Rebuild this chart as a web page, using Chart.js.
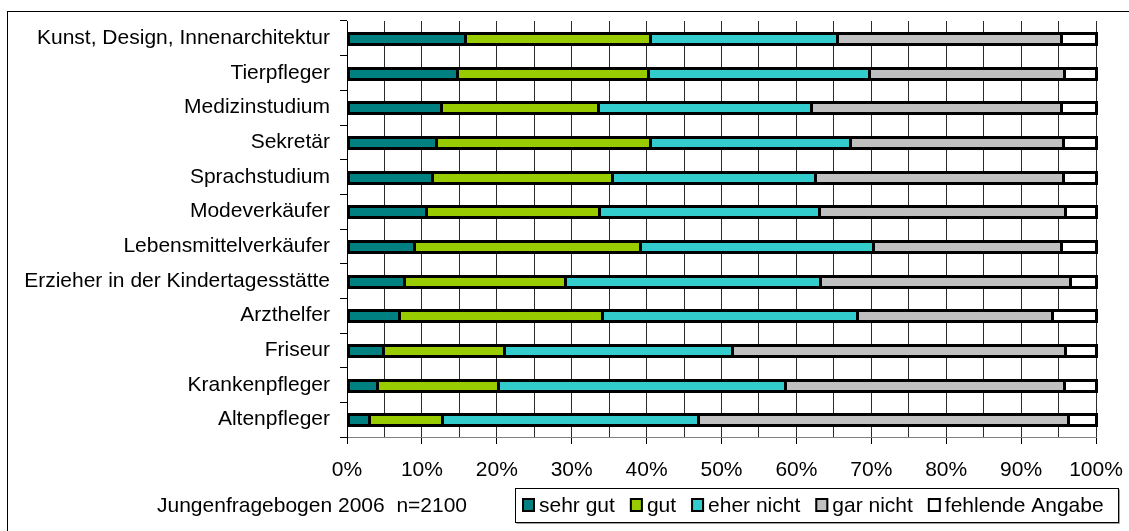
<!DOCTYPE html>
<html>
<head>
<meta charset="utf-8">
<script src="https://cdn.jsdelivr.net/npm/chart.js@4"></script>
<style>
  html, body { margin: 0; padding: 0; background: #fff; }
  canvas { display: block; }
</style>
</head>
<body>
<canvas id="c" width="1129" height="531" style="width:1129px;height:531px"></canvas>
<script>
const categories = [
  "Kunst, Design, Innenarchitektur",
  "Tierpfleger",
  "Medizinstudium",
  "Sekretär",
  "Sprachstudium",
  "Modeverkäufer",
  "Lebensmittelverkäufer",
  "Erzieher in der Kindertagesstätte",
  "Arzthelfer",
  "Friseur",
  "Krankenpfleger",
  "Altenpfleger"
];
const seriesNames = ["sehr gut", "gut", "eher nicht", "gar nicht", "fehlende Angabe"];
const sehrGut   = [15.7, 14.7, 12.5, 11.9, 11.4, 10.6, 8.9, 7.6, 7.0, 4.8, 4.0, 2.9];
const gut       = [24.7, 25.5, 21.0, 28.5, 24.0, 23.0, 30.2, 21.5, 27.1, 16.1, 16.1, 9.8];
const eherNicht = [25.0, 29.5, 28.5, 26.8, 27.1, 29.4, 31.1, 34.1, 34.0, 30.5, 38.4, 34.2];
const garNicht  = [29.9, 26.0, 33.3, 28.4, 33.1, 32.9, 25.1, 33.3, 26.0, 44.5, 37.2, 49.4];
const fehlend   = [4.7, 4.3, 4.7, 4.4, 4.4, 4.1, 4.7, 3.5, 5.9, 4.1, 4.3, 3.7];
const footnote = "Jungenfragebogen 2006  n=2100";

const colors = ["#008080", "#99CC00", "#33CCCC", "#C0C0C0", "#FFFFFF"];
const seriesValues = [sehrGut, gut, eherNicht, garNicht, fehlend];
const FONT = "'Liberation Sans', Arial, sans-serif";
const FS = 21;

const datasets = seriesValues.map((vals, i) => ({
  label: seriesNames[i],
  data: vals,
  backgroundColor: colors[i],
  borderWidth: 0,
  barThickness: 11,
  inflateAmount: 0
}));

const decorPlugin = {
  id: "decor",
  beforeDraw(chart) {
    const ctx = chart.ctx;
    ctx.save();
    ctx.fillStyle = "#fff";
    ctx.fillRect(0, 0, chart.width, chart.height);
    ctx.strokeStyle = "#000";
    ctx.lineWidth = 1;
    ctx.strokeRect(7.5, 11.5, chart.width + 20, chart.height + 20);
    ctx.restore();
  },
  afterDatasetsDraw(chart) {
    // outline every bar segment (crisp 3px stroke, shared between neighbours)
    const ctx = chart.ctx;
    ctx.save();
    ctx.strokeStyle = "#000";
    ctx.lineWidth = 3;
    chart.data.datasets.forEach((ds, di) => {
      const meta = chart.getDatasetMeta(di);
      meta.data.forEach(el => {
        const p = el.getProps(["x", "y", "base", "height"], true);
        const l = Math.round(Math.min(p.x, p.base)) + 0.5;
        const r = Math.round(Math.max(p.x, p.base)) + 0.5;
        const t = Math.round(p.y - p.height / 2) + 0.5;
        const h = Math.round(p.height);
        ctx.strokeRect(l, t, r - l, h);
      });
    });
    ctx.restore();
  },
  afterDraw(chart) {
    const ctx = chart.ctx;
    ctx.save();
    ctx.font = FS + "px " + FONT;
    ctx.fillStyle = "#000";
    ctx.textBaseline = "middle";
    ctx.textAlign = "left";
    const cy = 506;
    ctx.fillText(footnote, 157, cy);

    // legend box
    const bx = 515.5, by = 488.5, bw = 603, bh = 34;
    ctx.fillStyle = "#a0a0a0";
    ctx.fillRect(bx + 1, by + bh, bw, 1.5);
    ctx.fillRect(bx + bw, by + 1, 1.5, bh);
    ctx.fillStyle = "#fff";
    ctx.fillRect(bx, by, bw, bh);
    ctx.strokeStyle = "#000";
    ctx.lineWidth = 1;
    ctx.strokeRect(bx, by, bw, bh);

    let x = 522;
    chart.data.datasets.forEach(ds => {
      ctx.fillStyle = ds.backgroundColor;
      ctx.fillRect(x, 498, 13, 14);
      ctx.strokeStyle = "#000";
      ctx.lineWidth = 2;
      ctx.strokeRect(x + 1, 499, 11, 12);
      ctx.fillStyle = "#000";
      ctx.fillText(ds.label, x + 17, cy);
      x += 17 + ctx.measureText(ds.label).width + 15;
    });
    ctx.restore();
  }
};

new Chart(document.getElementById("c"), {
  type: "bar",
  data: { labels: categories, datasets },
  options: {
    indexAxis: "y",
    responsive: false,
    devicePixelRatio: 1,
    animation: false,
    layout: { padding: { top: 21, right: 33, bottom: 0, left: 0 } },
    plugins: { legend: { display: false }, tooltip: { enabled: false } },
    scales: {
      x: {
        stacked: true,
        min: 0,
        max: 100,
        afterFit(scale) {
          scale.height = 94;
          scale.paddingLeft = 0;
          scale.paddingRight = 0;
        },
        ticks: {
          stepSize: 5,
          autoSkip: false,
          maxRotation: 0,
          padding: 14,
          color: "#000",
          font: { family: FONT, size: FS },
          callback: v => (v % 10 === 0 ? v + "%" : "")
        },
        grid: {
          color: "#2a2a2a",
          lineWidth: 1,
          tickLength: 7,
          tickColor: c => (c.tick && c.tick.value % 10 === 0 ? "#000" : "rgba(0,0,0,0)")
        },
        border: { display: true, color: "#808080", width: 1 }
      },
      y: {
        stacked: true,
        afterFit(scale) {
          scale.width = 347;
          scale.paddingTop = 0;
          scale.paddingBottom = 0;
        },
        ticks: {
          padding: 10,
          color: "#000",
          font: { family: FONT, size: FS }
        },
        grid: {
          offset: true,
          drawOnChartArea: false,
          drawTicks: true,
          tickLength: 7,
          color: "#000",
          tickColor: "#000"
        },
        border: { display: true, color: "#000", width: 1 }
      }
    }
  },
  plugins: [decorPlugin]
});
</script>
</body>
</html>
